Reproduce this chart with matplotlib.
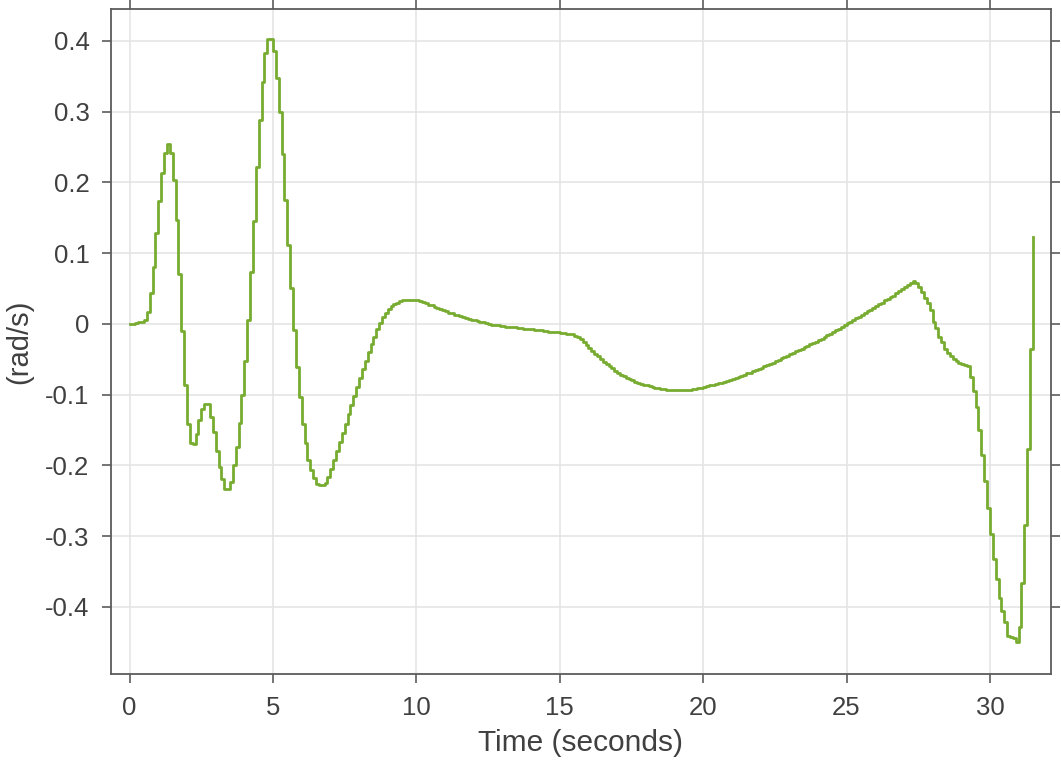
import matplotlib
matplotlib.use("Agg")
import matplotlib.pyplot as plt
import numpy as np

plt.rcParams['font.family'] = ['Liberation Sans', 'DejaVu Sans']
plt.rcParams['axes.unicode_minus'] = False

# sampled signal (zero-order hold), one row per second
sample_time = 0.1
rate = [
    0.000, 0.000, 0.001, 0.002, 0.003, 0.006, 0.017, 0.043, 0.081, 0.128,
    0.174, 0.213, 0.242, 0.254, 0.242, 0.204, 0.147, 0.071, -0.010, -0.087,
    -0.141, -0.169, -0.170, -0.156, -0.136, -0.121, -0.113, -0.114, -0.131, -0.153,
    -0.180, -0.203, -0.219, -0.233, -0.234, -0.223, -0.200, -0.174, -0.140, -0.101,
    -0.053, 0.005, 0.073, 0.146, 0.221, 0.288, 0.342, 0.383, 0.403, 0.403,
    0.385, 0.348, 0.300, 0.240, 0.175, 0.111, 0.050, -0.009, -0.061, -0.103,
    -0.141, -0.169, -0.193, -0.207, -0.218, -0.226, -0.228, -0.228, -0.225, -0.217,
    -0.205, -0.192, -0.180, -0.167, -0.154, -0.141, -0.128, -0.115, -0.102, -0.089,
    -0.076, -0.064, -0.052, -0.040, -0.028, -0.018, -0.008, 0.001, 0.009, 0.016,
    0.021, 0.025, 0.028, 0.030, 0.032, 0.033, 0.034, 0.034, 0.034, 0.034,
    0.033, 0.032, 0.031, 0.029, 0.027, 0.026, 0.024, 0.022, 0.021, 0.019,
    0.018, 0.016, 0.015, 0.013, 0.012, 0.011, 0.009, 0.008, 0.007, 0.006,
    0.005, 0.004, 0.003, 0.002, 0.001, 0.000, -0.001, -0.001, -0.002, -0.003,
    -0.003, -0.004, -0.004, -0.005, -0.005, -0.006, -0.006, -0.007, -0.007, -0.008,
    -0.008, -0.009, -0.009, -0.009, -0.010, -0.010, -0.011, -0.011, -0.012, -0.012,
    -0.013, -0.013, -0.014, -0.014, -0.015, -0.017, -0.019, -0.022, -0.026, -0.030,
    -0.034, -0.038, -0.042, -0.046, -0.050, -0.054, -0.057, -0.060, -0.063, -0.066,
    -0.069, -0.072, -0.074, -0.076, -0.078, -0.080, -0.082, -0.084, -0.085, -0.086,
    -0.087, -0.088, -0.089, -0.090, -0.091, -0.092, -0.092, -0.093, -0.093, -0.093,
    -0.094, -0.094, -0.094, -0.093, -0.093, -0.093, -0.092, -0.092, -0.091, -0.090,
    -0.089, -0.088, -0.087, -0.086, -0.085, -0.084, -0.083, -0.082, -0.081, -0.079,
    -0.078, -0.077, -0.075, -0.074, -0.072, -0.070, -0.069, -0.067, -0.065, -0.064,
    -0.062, -0.060, -0.058, -0.057, -0.055, -0.053, -0.051, -0.049, -0.047, -0.045,
    -0.043, -0.041, -0.039, -0.037, -0.035, -0.033, -0.031, -0.029, -0.027, -0.025,
    -0.023, -0.021, -0.018, -0.016, -0.014, -0.012, -0.009, -0.007, -0.004, -0.002,
    0.001, 0.003, 0.005, 0.008, 0.010, 0.013, 0.015, 0.018, 0.020, 0.023,
    0.025, 0.028, 0.030, 0.033, 0.035, 0.038, 0.040, 0.043, 0.046, 0.049,
    0.052, 0.055, 0.058, 0.060, 0.058, 0.052, 0.045, 0.037, 0.029, 0.019,
    0.003, -0.006, -0.018, -0.025, -0.035, -0.041, -0.046, -0.050, -0.053, -0.055,
    -0.057, -0.058, -0.060, -0.075, -0.095, -0.118, -0.150, -0.186, -0.222, -0.261,
    -0.297, -0.333, -0.361, -0.387, -0.406, -0.421, -0.441, -0.442, -0.444, -0.450,
    -0.428, -0.367, -0.285, -0.177, -0.035, 0.123,
]
time = np.arange(len(rate)) * sample_time

xticks = [0, 5, 10, 15, 20, 25, 30]
yticks = [-0.4, -0.3, -0.2, -0.1, 0, 0.1, 0.2, 0.3, 0.4]
ytick_labels = ['-0.4', '-0.3', '-0.2', '-0.1', '0', '0.1', '0.2', '0.3', '0.4']

fig = plt.figure(figsize=(10.61, 7.63), dpi=100)
ax = fig.add_axes([0.1046, 0.1166, 0.886, 0.8716])

ax.step(time, rate, where='post', color='#77AC30', linewidth=2.0)

ax.set_xlim(-0.65, 32.13)
ax.set_ylim(-0.495, 0.445)
ax.set_xticks(xticks)
ax.set_xticklabels([str(v) for v in xticks])
ax.set_yticks(yticks)
ax.set_yticklabels(ytick_labels)

ax.grid(True, color='#e3e3e3', linewidth=1.1)
ax.set_axisbelow(True)
for s in ax.spines.values():
    s.set_color('#5c5c5c')
    s.set_linewidth(1.3)

ax.tick_params(axis='both', which='major', direction='out', length=6.5, width=1.2,
               color='#5c5c5c', labelcolor='#404040', labelsize=18.5,
               top=True, right=True, labeltop=False, labelright=False)
ax.tick_params(axis='x', pad=9.5)
ax.tick_params(axis='y', pad=9)

ax.set_xlabel('Time (seconds)', fontsize=21.5, color='#404040')
ax.set_ylabel('(rad/s)', fontsize=21, color='#404040')
ax.xaxis.set_label_coords(0.499, -0.083)
ax.yaxis.set_label_coords(-0.083, 0.5)

fig.savefig('out.png', dpi=100)
